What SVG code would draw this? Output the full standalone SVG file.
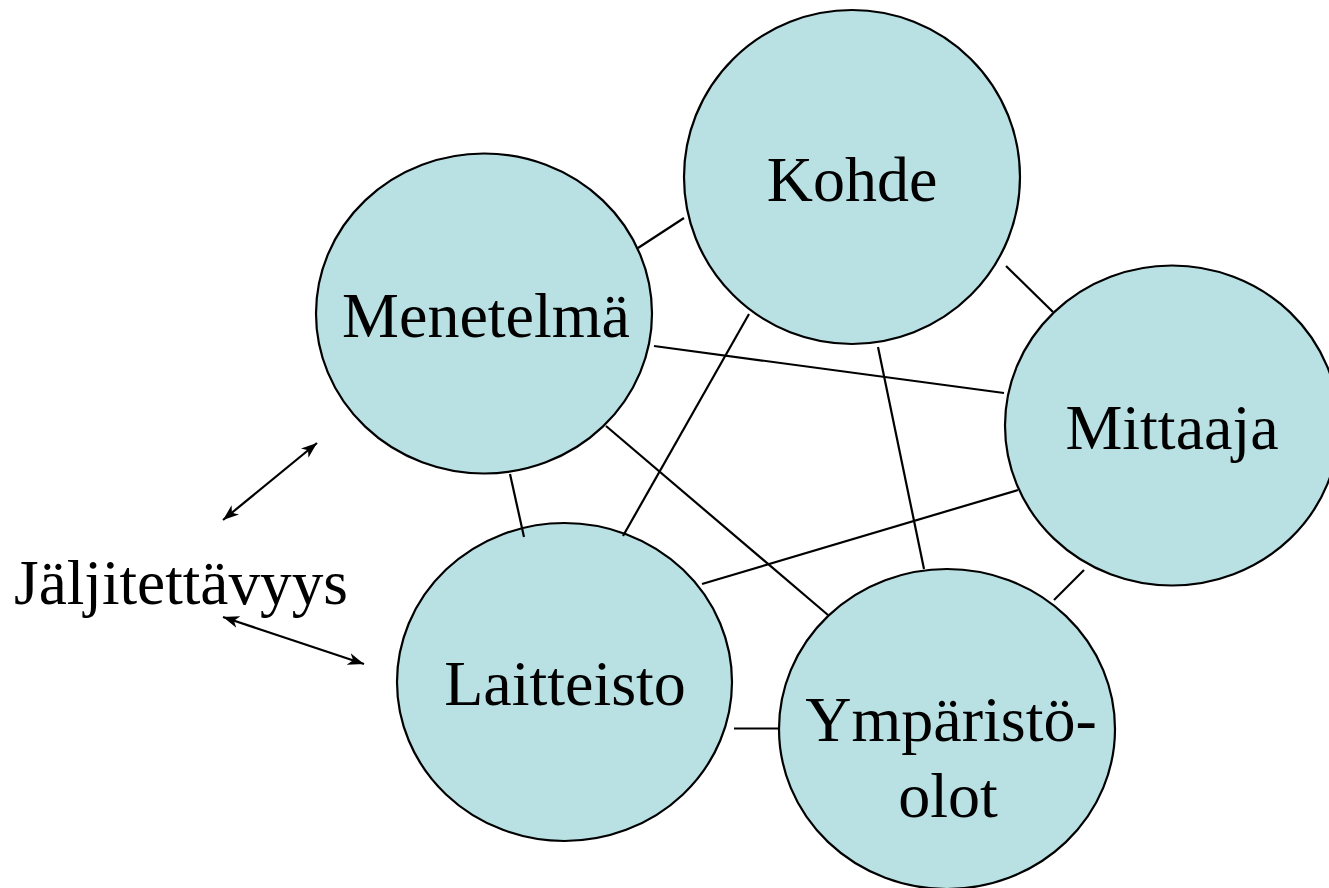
<svg xmlns="http://www.w3.org/2000/svg" width="1329" height="888" viewBox="0 0 1329 888">
<style>
.node ellipse{fill:#b9e0e3;stroke:#000;stroke-width:2.2}
.node text,.label{font-family:"Liberation Serif","Times New Roman",serif;font-size:64px;fill:#000;text-anchor:middle}
.conn line{stroke:#000;stroke-width:2.2;fill:none}
.arr{stroke:#000;stroke-width:2.4;fill:none;marker-start:url(#ah);marker-end:url(#ah)}
</style>
<defs>
<marker id="ah" markerUnits="userSpaceOnUse" markerWidth="17" markerHeight="13" viewBox="0 0 17 13" refX="16" refY="6.5" orient="auto-start-reverse">
<path d="M0,0.5 L16,6.5 L0,12.5 L4.5,6.5 Z" fill="#000"/>
</marker>
</defs>
<rect width="1329" height="888" fill="#fff"/>
<g id="kohde" class="node"><ellipse cx="852" cy="177" rx="168" ry="167"/><text x="852" y="201">Kohde</text></g>
<g id="menetelma" class="node"><ellipse cx="484" cy="313.5" rx="168" ry="160"/><text x="486" y="337">Menetelmä</text></g>
<g id="mittaaja" class="node"><ellipse cx="1172" cy="425.5" rx="167" ry="160"/><text x="1172" y="449">Mittaaja</text></g>
<g id="laitteisto" class="node"><ellipse cx="564.5" cy="682" rx="167.5" ry="159"/><text x="565" y="705">Laitteisto</text></g>
<g id="ymparisto" class="node"><ellipse cx="947" cy="729" rx="168" ry="160"/><text x="951" y="741">Ympäristö-</text><text x="948" y="817">olot</text></g>
<g id="connectors" class="conn">
<line x1="638" y1="248" x2="684" y2="218"/>
<line x1="1006" y1="266" x2="1053" y2="312"/>
<line x1="654" y1="346" x2="1004" y2="393"/>
<line x1="749" y1="314" x2="623" y2="536"/>
<line x1="878" y1="347" x2="924" y2="569"/>
<line x1="510" y1="474" x2="524" y2="537"/>
<line x1="606" y1="426" x2="828" y2="615"/>
<line x1="702" y1="584" x2="1018" y2="490"/>
<line x1="1084" y1="570" x2="1054" y2="600"/>
<line x1="734" y1="728.5" x2="779" y2="728.5"/>
<line class="arr" x1="223" y1="520" x2="317" y2="443"/>
<line class="arr" x1="223" y1="617" x2="364" y2="664"/>
</g>
<text id="jaljitettavyys" class="label" x="181" y="604" textLength="334" lengthAdjust="spacingAndGlyphs">Jäljitettävyys</text>
</svg>
